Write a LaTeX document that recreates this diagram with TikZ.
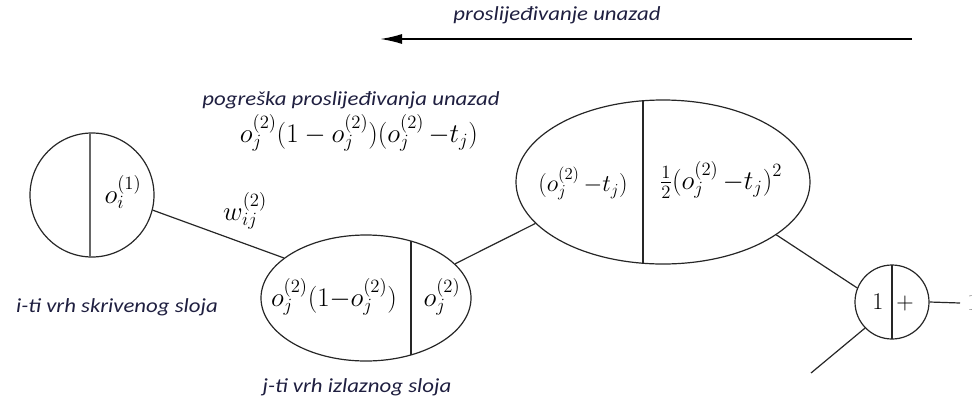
\documentclass[tikz,border=0pt]{standalone}
\usepackage{graphicx}
\usepackage{fontspec}
\setmainfont{Liberation Serif}
\newfontfamily\lblfont[FakeStretch=1.14]{Carlito}
\usetikzlibrary{arrows.meta,shapes.geometric}
\definecolor{lblcol}{rgb}{0.12,0.12,0.25}
\definecolor{edgecol}{rgb}{0.15,0.15,0.15}
\newcommand{\mathbx}[1]{\scalebox{1.30}{$#1$}}
\newcommand{\mathsm}[1]{\scalebox{1.16}{$#1$}}
\tikzset{
  lbl/.style={font=\lblfont\itshape\fontsize{20}{22}\selectfont, text=lblcol, inner sep=0pt},
  mth/.style={font=\fontsize{20.74}{25}\selectfont, inner sep=0pt},
  unit/.style={draw=edgecol, line width=1.2pt, inner sep=0pt},
  conn/.style={draw=edgecol, line width=1.2pt},
  divider/.style={draw=edgecol, line width=1.2pt}
}
\begin{document}
\begin{tikzpicture}[x=1pt,y=-1pt]
\useasboundingbox (0,0) rectangle (972,400);
% top arrow
\coordinate (arrS) at (912,39);
\coordinate (arrE) at (380,39);
\draw[line width=1.8pt, -{Latex[length=22pt,width=10pt]}] (arrS) -- (arrE);
\node[lbl] (tArr) at (557,15) {proslijeđivanje unazad};

% labels above
\node[lbl] (tErr) at (351,100) {pogreška proslijeđivanja unazad};
\node[mth] (fErr) at (359,133) {\mathbx{o_j^{(2)}(1-o_j^{(2)})(o_j^{(2)}\,{-}t_j)}};

% circle 1
\node[unit, circle, minimum size=124pt] (c1) at (92,195) {};
\draw[divider, draw=gray!80!black] (90,133.1) -- (90,256.9);
\node[mth] (tc1) at (123,192) {\mathbx{o_i^{(1)}}};
\node[lbl] (tHid) at (117,307) {i-ti vrh skrivenog sloja};

% ellipse 2
\node[unit, ellipse, minimum width=210pt, minimum height=126pt] (e2) at (366,298) {};
\draw[divider] (411,241) -- (411,355);
\node[mth] (te2a) at (334,297) {\mathbx{o_j^{(2)}(1{-}o_j^{(2)})}};
\node[mth] (te2b) at (442,297) {\mathbx{o_j^{(2)}}};
\node[lbl] (tOut) at (357,387) {j-ti vrh izlaznog sloja};

% ellipse 3
\node[unit, ellipse, minimum width=294pt, minimum height=164pt] (e3) at (663,182) {};
\draw[divider] (643,101) -- (643,263);
\node[mth] (te3a) at (583,183) {\mathsm{(o_j^{(2)}\,{-}t_j)}};
\node[mth] (te3b) at (721,180) {\mathbx{{\textstyle\frac{1}{2}}\bigl(o_j^{(2)}\,{-}t_j\bigr)^{2}}};

% circle 4
\node[unit, circle, minimum size=74pt] (c4) at (892,302) {};
\draw[divider] (892,265) -- (892,339);
\node[mth] (tc4a) at (878,302) {\mathsm{1}};
\node[mth] (tc4b) at (905,303) {\mathsm{+}};
\coordinate (outR) at (960,303);
\coordinate (inLL) at (811,373);
\node[mth, text=gray, anchor=west] (tcut) at (967,303) {\mathsm{1}};

% weight label
\node[mth] (tw) at (245,211) {\mathbx{w_{ij}^{(2)}}};

% connectors
\draw[conn] (c1.-14) -- (e2.154);
\draw[conn] (e2.21) -- (e3.198);
\draw[conn] (e3.-25) -- (c4.158);
\draw[conn] (c4.224) -- (inLL);
\draw[conn] (c4.east) -- (outR);
\end{tikzpicture}
\end{document}
